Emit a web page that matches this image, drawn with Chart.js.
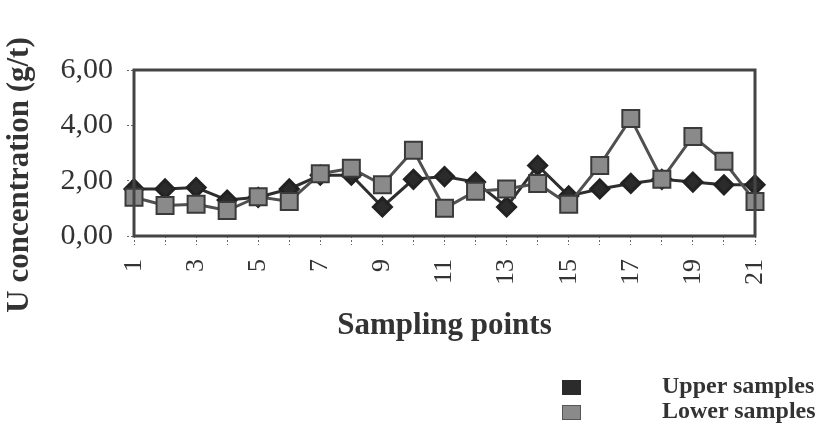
<!DOCTYPE html>
<html>
<head>
<meta charset="utf-8">
<script src="https://cdn.jsdelivr.net/npm/chart.js@4/dist/chart.umd.min.js"></script>
<style>
  html, body { margin: 0; padding: 0; background: #fff; }
  #wrap { position: relative; width: 833px; height: 438px; }
  .legend { position: absolute; font-family: "Liberation Serif", serif; font-weight: bold; font-size: 24px; color: #333; }
  .legend .row { position: relative; height: 25px; }
  .legend .box { position: absolute; left: 0; top: 4px; width: 19px; height: 15px; }
  .legend .label { position: absolute; left: 100px; top: -4px; white-space: nowrap; }
</style>
</head>
<body>
<div id="wrap">
  <canvas id="chart" width="833" height="438"></canvas>
  <div class="legend" style="left:562px; top:376px;">
    <div class="row"><span class="box" style="background:#2b2b2b"></span><span class="label">Upper samples</span></div>
    <div class="row"><span class="box" style="background:#8a8a8a; border:1px solid #555; width:17px; height:13px"></span><span class="label">Lower samples</span></div>
  </div>
</div>
<script>
const samplingPoints = ['1', '2', '3', '4', '5', '6', '7', '8', '9', '10', '11', '12', '13', '14', '15', '16', '17', '18', '19', '20', '21'];
const upperSamples = [1.7, 1.7, 1.75, 1.3, 1.4, 1.7, 2.2, 2.2, 1.05, 2.05, 2.15, 1.95, 1.05, 2.55, 1.45, 1.7, 1.9, 2.05, 1.95, 1.85, 1.85];
const lowerSamples = [1.4, 1.1, 1.15, 0.92, 1.42, 1.25, 2.25, 2.45, 1.85, 3.1, 1.0, 1.62, 1.7, 1.9, 1.15, 2.55, 4.25, 2.05, 3.6, 2.7, 1.25];
const yTickLabels = ['0,00', '2,00', '4,00', '6,00'];
const yTitle = 'U concentration (g/t)';

const serif = '"Liberation Serif", "DejaVu Serif", serif';

// box round the plot area plus the y title, which sits lower than the plot centre
const frame = {
  id: 'frame',
  afterDatasetsDraw(chart) {
    const { ctx, chartArea } = chart;
    ctx.save();
    ctx.strokeStyle = '#444';
    ctx.lineWidth = 3;
    ctx.strokeRect(chartArea.left, chartArea.top, chartArea.right - chartArea.left, chartArea.bottom - chartArea.top);
    ctx.restore();
  },
  afterDraw(chart) {
    const { ctx, chartArea } = chart;
    ctx.save();
    ctx.translate(20, (chartArea.top + chartArea.bottom) / 2 + 22);
    ctx.rotate(-Math.PI / 2);
    ctx.font = `bold 31px ${serif}`;
    ctx.fillStyle = '#333';
    ctx.textAlign = 'center';
    ctx.textBaseline = 'middle';
    ctx.fillText(yTitle, 0, 0);
    ctx.restore();
  }
};

new Chart(document.getElementById('chart').getContext('2d'), {
  type: 'line',
  data: {
    labels: samplingPoints,
    datasets: [{
      label: 'Upper samples',
      data: upperSamples,
      borderColor: '#2e2e2e',
      backgroundColor: '#2b2b2b',
      pointBorderColor: '#222',
      pointStyle: 'rectRot',
      pointRadius: 9,
      borderWidth: 3,
      tension: 0,
      order: 1
    }, {
      label: 'Lower samples',
      data: lowerSamples,
      borderColor: '#505050',
      backgroundColor: '#8a8a8a',
      pointBorderColor: '#3a3a3a',
      pointBorderWidth: 2,
      pointStyle: 'rect',
      pointRadius: 12,
      borderWidth: 3,
      tension: 0,
      order: 0
    }]
  },
  options: {
    responsive: false,
    animation: false,
    layout: { padding: { top: 70, right: 78, bottom: 90, left: 0 } },
    plugins: { legend: { display: false }, tooltip: { enabled: false } },
    scales: {
      x: {
        offset: false,
        afterFit: (scale) => { scale.height = 112; },
        border: { display: false },
        grid: { drawOnChartArea: false, tickLength: 9, color: '#666', tickBorderDash: [2, 2], lineWidth: 1 },
        ticks: {
          autoSkip: false,
          maxRotation: 90,
          minRotation: 90,
          padding: 14,
          color: '#333',
          font: { family: serif, size: 26 },
          callback: (value, index) => (index % 2 === 0 ? samplingPoints[index] : '')
        },
        title: {
          display: true,
          text: 'Sampling points',
          color: '#333',
          font: { family: serif, size: 31, weight: 'bold' },
          padding: { top: 0, bottom: 3 }
        }
      },
      y: {
        min: 0,
        max: 6,
        afterFit: (scale) => { scale.width = 134; },
        border: { display: false },
        grid: { drawOnChartArea: false, tickLength: 7, color: '#666', tickBorderDash: [2, 2] },
        ticks: {
          stepSize: 2,
          padding: 14,
          color: '#333',
          font: { family: serif, size: 30 },
          callback: (value, index) => yTickLabels[index]
        },
        title: { display: false }
      }
    }
  },
  plugins: [frame]
});
</script>
</body>
</html>
